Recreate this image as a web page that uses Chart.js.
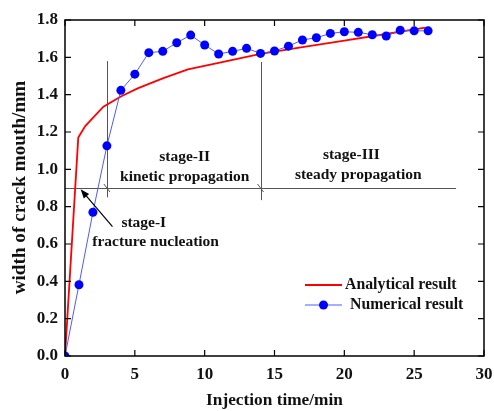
<!DOCTYPE html>
<html><head><meta charset="utf-8">
<script src="https://cdn.jsdelivr.net/npm/chart.js@4.4.1/dist/chart.umd.min.js"></script>
<style>html,body{margin:0;padding:0;background:#fff;}#wrap{width:494px;height:411px;position:relative;}</style>
</head><body><div id="wrap"><canvas id="c" width="494" height="411"></canvas></div>
<script>
const numTime  = [0,1,2,3,4,5,6,7,8,9,10,11,12,13,14,15,16,17,18,19,20,21,22,23,24,25,26];
const numWidth = [0,0.382,0.77,1.126,1.423,1.51,1.625,1.632,1.678,1.719,1.666,1.618,1.632,1.648,1.621,1.634,1.66,1.693,1.705,1.728,1.737,1.734,1.721,1.714,1.745,1.742,1.742];
const anaTime  = [0,0.95,1.45,2.75,4,5.2,7,8.8,11,14,17,20,23,25.8];
const anaWidth = [0,1.17,1.232,1.336,1.39,1.434,1.487,1.535,1.57,1.618,1.655,1.69,1.725,1.759];
const xTicks = [0,5,10,15,20,25,30];
const yTicks = [0,0.2,0.4,0.6,0.8,1.0,1.2,1.4,1.6,1.8];
const seriesNames = ['Analytical result','Numerical result'];
const xTitle = 'Injection time/min';
const yTitle = 'width of crack mouth/mm';
const stageTexts = [
  {t:8.57, v:1.066, s:'stage-II'}, {t:8.57, v:0.959, s:'kinetic propagation'},
  {t:20.5, v:1.077, s:'stage-III'}, {t:21.0, v:0.970, s:'steady propagation'},
  {t:5.64, v:0.714, s:'stage-I'}, {t:6.49, v:0.611, s:'fracture nucleation'}
];
const hLine = {v:0.9, t0:0, t1:28};
const vLines = [{t:3, v0:0.85, v1:1.58}, {t:14, v0:0.835, v1:1.575}];
const arrow = {t0:3.4, v0:0.693, t1:1.12, v1:0.893};

const SERIF = '"Liberation Serif","Times New Roman",serif';

const deco = {
  id:'deco',
  beforeDatasetsDraw(chart){
    const {ctx, scales:{x,y}} = chart;
    ctx.save();
    ctx.strokeStyle = '#555'; ctx.lineWidth = 1;
    ctx.beginPath();
    ctx.moveTo(x.getPixelForValue(hLine.t0), Math.round(y.getPixelForValue(hLine.v))+0.5);
    ctx.lineTo(x.getPixelForValue(hLine.t1), Math.round(y.getPixelForValue(hLine.v))+0.5);
    vLines.forEach(l=>{
      const px = Math.round(x.getPixelForValue(l.t))+0.5;
      ctx.moveTo(px, y.getPixelForValue(l.v0));
      ctx.lineTo(px, y.getPixelForValue(l.v1));
    });
    ctx.stroke();
    ctx.beginPath();
    vLines.forEach(l=>{
      const px = x.getPixelForValue(l.t), py = y.getPixelForValue(hLine.v);
      ctx.moveTo(px-3, py-4); ctx.lineTo(px+3, py+4);
    });
    ctx.stroke();
    ctx.restore();
  },
  afterDraw(chart){
    const {ctx, chartArea:a, scales:{x,y}} = chart;
    ctx.save();
    ctx.strokeStyle = '#000'; ctx.lineWidth = 1.5;
    ctx.strokeRect(a.left, a.top, a.right-a.left, a.bottom-a.top);
    ctx.lineWidth = 1.2;
    ctx.beginPath();
    xTicks.forEach(t=>{
      const px = x.getPixelForValue(t);
      ctx.moveTo(px, a.bottom); ctx.lineTo(px, a.bottom-6);
      ctx.moveTo(px, a.top); ctx.lineTo(px, a.top+6);
    });
    yTicks.forEach(v=>{
      const py = y.getPixelForValue(v);
      ctx.moveTo(a.left, py); ctx.lineTo(a.left+6, py);
      ctx.moveTo(a.right, py); ctx.lineTo(a.right-6, py);
    });
    ctx.stroke();
    const ax0 = x.getPixelForValue(arrow.t0), ay0 = y.getPixelForValue(arrow.v0);
    const ax1 = x.getPixelForValue(arrow.t1), ay1 = y.getPixelForValue(arrow.v1);
    const ang = Math.atan2(ay1-ay0, ax1-ax0);
    ctx.strokeStyle = '#000'; ctx.lineWidth = 1.2;
    ctx.beginPath(); ctx.moveTo(ax0, ay0);
    ctx.lineTo(ax1 - 6*Math.cos(ang), ay1 - 6*Math.sin(ang)); ctx.stroke();
    ctx.fillStyle = '#000';
    ctx.beginPath();
    ctx.moveTo(ax1, ay1);
    ctx.lineTo(ax1 - 9*Math.cos(ang) + 3.5*Math.sin(ang), ay1 - 9*Math.sin(ang) - 3.5*Math.cos(ang));
    ctx.lineTo(ax1 - 9*Math.cos(ang) - 3.5*Math.sin(ang), ay1 - 9*Math.sin(ang) + 3.5*Math.cos(ang));
    ctx.closePath(); ctx.fill();
    ctx.fillStyle = '#111';
    ctx.font = 'bold 15.5px ' + SERIF;
    ctx.textAlign = 'center'; ctx.textBaseline = 'middle';
    stageTexts.forEach(s=>ctx.fillText(s.s, x.getPixelForValue(s.t), y.getPixelForValue(s.v)));
    const lx0 = 305, lx1 = 342;
    const ly = [285, 305];
    ctx.lineWidth = 1.8; ctx.strokeStyle = '#ff0000';
    ctx.beginPath(); ctx.moveTo(lx0, ly[0]); ctx.lineTo(lx1, ly[0]); ctx.stroke();
    ctx.lineWidth = 1; ctx.strokeStyle = '#4d5cff';
    ctx.beginPath(); ctx.moveTo(lx0, ly[1]); ctx.lineTo(lx1, ly[1]); ctx.stroke();
    ctx.fillStyle = '#0000ff';
    ctx.beginPath(); ctx.arc((lx0+lx1)/2, ly[1], 4.5, 0, Math.PI*2); ctx.fill();
    ctx.fillStyle = '#111'; ctx.textAlign = 'left';
    ctx.font = 'bold 15.8px ' + SERIF;
    ctx.fillText(seriesNames[0], 345, ly[0]);
    ctx.fillText(seriesNames[1], 350, ly[1]);
    ctx.save();
    ctx.translate(20, 187.5);
    ctx.rotate(-Math.PI/2);
    ctx.font = 'bold 19.2px ' + SERIF;
    ctx.textAlign = 'center'; ctx.textBaseline = 'middle';
    ctx.fillText(yTitle, 0, 0);
    ctx.restore();
    ctx.restore();
  }
};

new Chart(document.getElementById('c'), {
  type:'scatter',
  data:{ datasets:[
    { label:seriesNames[0], data:anaTime.map((t,i)=>({x:t,y:anaWidth[i]})), showLine:true,
      borderColor:'#ff0000', borderWidth:1.8, pointRadius:0, order:2 },
    { label:seriesNames[1], data:numTime.map((t,i)=>({x:t,y:numWidth[i]})), showLine:true,
      borderColor:'#4d5cff', borderWidth:1, pointRadius:4.5, pointBackgroundColor:'#0000ff',
      pointBorderColor:'#0000ff', pointBorderWidth:0, order:1 }
  ]},
  options:{
    responsive:false, animation:false, devicePixelRatio:1,
    layout:{padding:{top:20,right:10,left:0,bottom:0}},
    plugins:{legend:{display:false}, tooltip:{enabled:false}},
    scales:{
      x:{ type:'linear', min:0, max:30,
        grid:{display:false, drawTicks:false}, border:{display:false},
        ticks:{padding:8, color:'#111', font:{family:SERIF, weight:'bold', size:17}, maxRotation:0},
        title:{display:true, text:xTitle, color:'#111', align:'center', padding:{top:0,bottom:0}, font:{family:SERIF, weight:'bold', size:17.3, lineHeight:1.2}},
        afterBuildTicks(s){ s.ticks = xTicks.map(v=>({value:v})); },
        afterFit(s){ s.height = 55; s.paddingLeft = 0; s.paddingRight = 0; }
      },
      y:{ type:'linear', min:0, max:1.8,
        grid:{display:false, drawTicks:false}, border:{display:false},
        ticks:{padding:7, color:'#111', font:{family:SERIF, weight:'bold', size:17}, callback:v=>Number(v).toFixed(1)},
        afterBuildTicks(s){ s.ticks = yTicks.map(v=>({value:v})); },
        afterFit(s){ s.width = 65; s.paddingTop = 0; s.paddingBottom = 0; }
      }
    }
  },
  plugins:[deco]
});
</script></body></html>
